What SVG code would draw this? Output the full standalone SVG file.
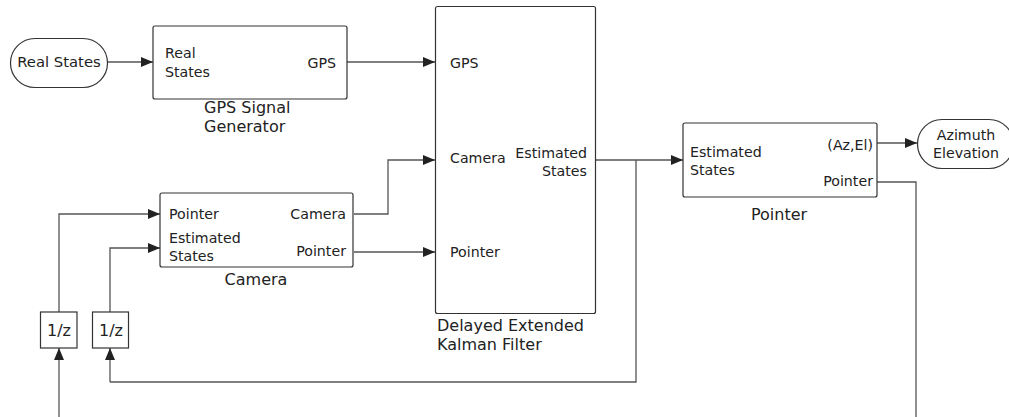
<svg xmlns="http://www.w3.org/2000/svg" width="1009" height="417" viewBox="0 0 1009 417">
<defs>
<marker id="arr" markerWidth="12" markerHeight="10" refX="12" refY="5" orient="auto" markerUnits="userSpaceOnUse">
<path d="M0,0 L12,5 L0,10 Z" fill="#222"/>
</marker>
<style>
.box{fill:#fff;stroke:#333;stroke-width:1.2}
.t{font-family:"DejaVu Sans",Verdana,sans-serif;font-size:14.2px;fill:#222}
.l{font-size:16px}
.e{text-anchor:end}
.m{text-anchor:middle}
.c{fill:none;stroke:#555;stroke-width:1.3}
.ca{fill:none;stroke:#555;stroke-width:1.3;marker-end:url(#arr)}
</style>
</defs>
<rect width="1009" height="417" fill="#fff"/>
<g id="connectors">
<path class="ca" d="M107,62 H153"/>
<path class="ca" d="M347,62 H435"/>
<path class="ca" d="M354,214 H388 V160 H435"/>
<path class="ca" d="M354,252 H435"/>
<path class="ca" d="M596,160 H683"/>
<path class="c" d="M636,160 V382 H110"/>
<path class="ca" d="M110,382 V348"/>
<path class="ca" d="M59,417 V348"/>
<path class="ca" d="M59,312 V214 H160"/>
<path class="ca" d="M110,312 V248 H160"/>
<path class="ca" d="M877,143 H917"/>
<path class="c" d="M877,182 H916 V417"/>
</g>
<g id="real-states">
<rect class="box" x="10.5" y="38.5" width="97" height="49" rx="24.5"/>
<text class="t m" x="59" y="67" style="font-size:14.8px">Real States</text>
</g>
<g id="gps-signal-generator">
<rect class="box" x="153" y="26" width="194" height="73" rx="2"/>
<text class="t" x="165" y="58">Real</text>
<text class="t" x="165" y="77">States</text>
<text class="t e" x="336" y="68">GPS</text>
<text class="t l" x="204" y="113">GPS Signal</text>
<text class="t l" x="204" y="132">Generator</text>
</g>
<g id="dekf">
<rect class="box" x="435.5" y="6.5" width="160" height="307" rx="2"/>
<text class="t" x="450" y="68">GPS</text>
<text class="t" x="450" y="163">Camera</text>
<text class="t" x="450" y="257">Pointer</text>
<text class="t e" x="587" y="158">Estimated</text>
<text class="t e" x="587" y="176">States</text>
<text class="t l" x="437" y="331">Delayed Extended</text>
<text class="t l" x="437" y="350">Kalman Filter</text>
</g>
<g id="camera">
<rect class="box" x="160" y="193" width="193" height="74" rx="2"/>
<text class="t" x="169" y="219">Pointer</text>
<text class="t e" x="346" y="219">Camera</text>
<text class="t" x="169" y="243">Estimated</text>
<text class="t" x="169" y="261">States</text>
<text class="t e" x="346" y="256">Pointer</text>
<text class="t l m" x="256" y="285">Camera</text>
</g>
<g id="delay1">
<rect class="box" x="40.5" y="312" width="36.5" height="36" rx="0"/>
<text class="t l m" x="59" y="336">1/z</text>
</g>
<g id="delay2">
<rect class="box" x="92.5" y="312" width="36" height="36" rx="0"/>
<text class="t l m" x="111" y="336">1/z</text>
</g>
<g id="pointer">
<rect class="box" x="683" y="123" width="194" height="74" rx="2"/>
<text class="t" x="690" y="157">Estimated</text>
<text class="t" x="690" y="175">States</text>
<text class="t e" x="873" y="150">(Az,El)</text>
<text class="t e" x="873" y="186">Pointer</text>
<text class="t l m" x="779" y="220">Pointer</text>
</g>
<g id="azimuth-elevation">
<rect class="box" x="917.5" y="119.5" width="96" height="49" rx="24.5"/>
<text class="t m" x="966" y="140">Azimuth</text>
<text class="t m" x="966" y="158">Elevation</text>
</g>
</svg>
